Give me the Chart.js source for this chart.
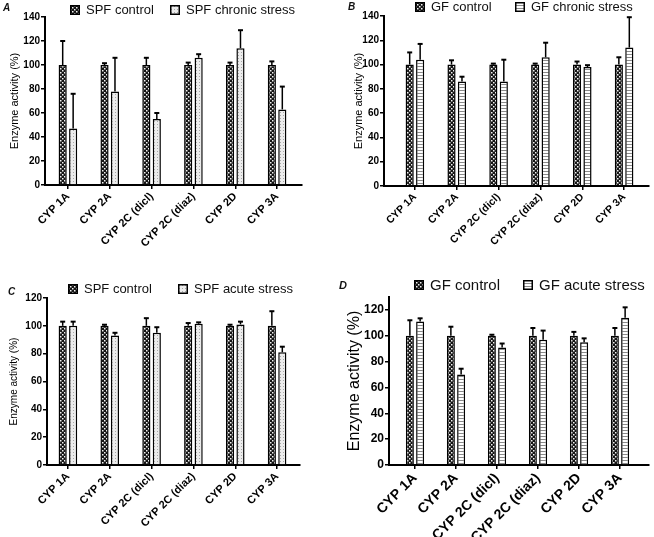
<!DOCTYPE html>
<html>
<head>
<meta charset="utf-8">
<script src="https://cdn.jsdelivr.net/npm/chart.js@4.4.1/dist/chart.umd.min.js"></script>
<style>
  body { margin: 0; background: #fff; font-family: 'Liberation Sans', Arial, sans-serif; }
  #page { position: relative; width: 654px; height: 537px; overflow: hidden; }
  .panel { position: absolute; }
  .tag { position: absolute; font-weight: bold; font-style: italic; color: #111; }
  .lg { position: absolute; display: flex; align-items: center; white-space: nowrap; color: #111; }
  .lg canvas { margin-right: 6px; }
</style>
</head>
<body>
<div id="page">
  <canvas id="chartA" class="panel" style="left:0;top:0"></canvas>
  <canvas id="chartB" class="panel" style="left:327px;top:0"></canvas>
  <canvas id="chartC" class="panel" style="left:0;top:268px"></canvas>
  <canvas id="chartD" class="panel" style="left:327px;top:268px"></canvas>
</div>
<script>
// categories and series
const categories = ['CYP 1A', 'CYP 2A', 'CYP 2C (dicl)', 'CYP 2C (diaz)', 'CYP 2D', 'CYP 3A'];

// A: SPF chronic
const spfCtrlChronic = [100, 100, 100, 100, 100, 100];
const spfCtrlChronicErr = [20, 1.5, 6, 2, 2, 3];
const spfChronic = [47, 78, 55, 106, 114, 63];
const spfChronicErr = [29, 28, 5, 3, 15, 19];

// B: GF chronic
const gfCtrlChronic = [100, 100, 100, 100, 100, 100];
const gfCtrlChronicErr = [10, 3.5, 0.8, 0.8, 2.5, 6];
const gfChronic = [104, 86, 86, 106, 98, 114];
const gfChronicErr = [13, 4, 18, 12, 1.5, 25];

// C: SPF acute
const spfCtrlAcute = [100, 100, 100, 100, 100, 100];
const spfCtrlAcuteErr = [3, 0.8, 5.5, 2, 0.8, 10.5];
const spfAcute = [100, 93, 95, 101.5, 101, 81];
const spfAcuteErr = [3, 2, 4, 1, 2, 4];

// D: GF acute
const gfCtrlAcute = [100, 100, 100, 100, 100, 100];
const gfCtrlAcuteErr = [12, 7, 0.8, 6, 3, 6];
const gfAcute = [111, 70, 91, 97, 95, 114];
const gfAcuteErr = [2.5, 4.5, 3, 7, 3, 8];

const legendA = ['SPF control', 'SPF chronic stress'];
const legendB = ['GF control', 'GF chronic stress'];
const legendC = ['SPF control', 'SPF acute stress'];
const legendD = ['GF control', 'GF acute stress'];

const yTicks140 = [0, 20, 40, 60, 80, 100, 120, 140];
const yTicks120 = [0, 20, 40, 60, 80, 100, 120];

const yTitle = 'Enzyme activity (%)';

const FONT = "'Liberation Sans', Arial, sans-serif";
Chart.defaults.color = '#000';
Chart.defaults.font.family = FONT;

// fill patterns
function makePattern(kind) {
    const c = document.createElement('canvas');
    const x = c.getContext('2d');
    if (kind === 'dots') {
        c.width = 4; c.height = 4;
        x.fillStyle = '#151515'; x.fillRect(0, 0, 4, 4);
        x.fillStyle = '#f4f4f4';
        x.fillRect(0, 0, 1.5, 1.5); x.fillRect(2, 2, 1.5, 1.5);
    } else if (kind === 'stipple') {
        c.width = 3; c.height = 3;
        x.fillStyle = '#ececec'; x.fillRect(0, 0, 3, 3);
        x.fillStyle = '#a8a8a8'; x.fillRect(1, 1, 1, 1);
    } else {
        c.width = 3; c.height = 3;
        x.fillStyle = '#ffffff'; x.fillRect(0, 0, 3, 3);
        x.fillStyle = '#8a8a8a'; x.fillRect(0, 0, 3, 1);
    }
    return x.createPattern(c, 'repeat');
}

// upper error bars from each dataset's errors array
const errorBars = {
    id: 'errorBars',
    afterDatasetsDraw(chart) {
        const ctx = chart.ctx;
        const yScale = chart.scales.y;
        chart.data.datasets.forEach((ds, i) => {
            const meta = chart.getDatasetMeta(i);
            meta.data.forEach((bar, j) => {
                const top = yScale.getPixelForValue(ds.data[j] + ds.errors[j]);
                ctx.save();
                ctx.strokeStyle = '#000';
                ctx.lineWidth = 1.5;
                ctx.beginPath();
                ctx.moveTo(bar.x, bar.y);
                ctx.lineTo(bar.x, top);
                ctx.stroke();
                ctx.lineWidth = 2;
                ctx.beginPath();
                ctx.moveTo(bar.x - 2.5, top);
                ctx.lineTo(bar.x + 2.5, top);
                ctx.stroke();
                ctx.restore();
            });
        });
    }
};

function addLegend(p, names, patterns) {
    const page = document.getElementById('page');
    names.forEach((name, i) => {
        const item = document.createElement('div');
        item.className = 'lg';
        item.style.left = p.lgX[i] + 'px';
        item.style.top = p.lgY + 'px';
        item.style.fontSize = p.lgFont + 'px';
        const sw = document.createElement('canvas');
        sw.width = 10; sw.height = 10;
        const sx = sw.getContext('2d');
        sx.fillStyle = patterns[i];
        sx.fillRect(0, 0, 10, 10);
        sx.strokeStyle = '#000';
        sx.lineWidth = 1.5;
        sx.strokeRect(0.75, 0.75, 8.5, 8.5);
        item.appendChild(sw);
        const t = document.createElement('span');
        t.textContent = name;
        item.appendChild(t);
        page.appendChild(item);
    });
    const tag = document.createElement('div');
    tag.className = 'tag';
    tag.textContent = p.tag;
    tag.style.left = p.tagX + 'px';
    tag.style.top = p.tagY + 'px';
    tag.style.fontSize = p.tagFont + 'px';
    page.appendChild(tag);
}

function drawPanel(p) {
    const cv = document.getElementById(p.id);
    cv.width = p.w; cv.height = p.h;
    const ctrlPat = makePattern('dots');
    const stressPat = makePattern(p.stressKind);
    addLegend(p, p.names, [ctrlPat, stressPat]);

    new Chart(cv.getContext('2d'), {
        type: 'bar',
        data: {
            labels: categories,
            datasets: [
                {
                    label: p.names[0],
                    data: p.ctrl,
                    errors: p.ctrlErr,
                    backgroundColor: ctrlPat,
                    borderColor: '#000',
                    borderWidth: 1.5,
                    categoryPercentage: 0.5,
                    barPercentage: 0.78
                },
                {
                    label: p.names[1],
                    data: p.stress,
                    errors: p.stressErr,
                    backgroundColor: stressPat,
                    borderColor: '#000',
                    borderWidth: 1.5,
                    categoryPercentage: 0.5,
                    barPercentage: 0.78
                }
            ]
        },
        options: {
            responsive: false,
            animation: false,
            layout: { padding: { left: 0, top: p.top, right: p.w - p.right, bottom: 0 } },
            plugins: { legend: { display: false }, tooltip: { enabled: false } },
            scales: {
                x: {
                    afterFit: s => { s.height = p.h - p.bottom; },
                    // the axis line runs a little past the outer categories
                    afterBuildTicks: s => {
                        const n = categories.length;
                        const c = (p.right - p.left - p.inL - p.inR) / n;
                        s._startValue = -0.5 - p.inL / c;
                        s._valueRange = n + (p.inL + p.inR) / c;
                    },
                    grid: { display: true, drawOnChartArea: false, offset: false, color: '#000', lineWidth: 1.5, tickLength: 4 },
                    border: { display: true, color: '#000', width: 2 },
                    ticks: { minRotation: 45, maxRotation: 45, padding: 1, color: '#000',
                             font: { size: p.xFont, weight: 'bold', family: FONT } }
                },
                y: {
                    min: 0,
                    max: p.yMax,
                    afterFit: s => { s.width = p.left; },
                    afterBuildTicks: s => { s.ticks = p.yTicks.map(v => ({ value: v })); },
                    grid: { display: true, drawOnChartArea: false, color: '#000', lineWidth: 1.5, tickLength: 4 },
                    border: { display: true, color: '#000', width: 2 },
                    ticks: { padding: 1, color: '#000',
                             font: { size: p.tickFont, weight: 'bold', family: FONT } },
                    title: { display: true, text: yTitle, color: '#000',
                             padding: { top: p.titlePad, bottom: 0 },
                             font: { size: p.titleFont, family: FONT } }
                }
            }
        },
        plugins: [errorBars]
    });
}

drawPanel({ id: 'chartA', tag: 'A', w: 327, h: 268, left: 45, top: 17, right: 302, bottom: 185, inL: 2, inR: 4,
    ctrl: spfCtrlChronic, ctrlErr: spfCtrlChronicErr, stress: spfChronic, stressErr: spfChronicErr,
    stressKind: 'stipple', yMax: 140, yTicks: yTicks140, names: legendA,
    tickFont: 10, xFont: 11, titleFont: 11, titlePad: 8,
    lgX: [70, 170], lgY: 2, lgFont: 13, tagX: 3, tagY: 2, tagFont: 10 });

drawPanel({ id: 'chartB', tag: 'B', w: 327, h: 268, left: 57, top: 16, right: 322, bottom: 186, inL: 10, inR: 4,
    ctrl: gfCtrlChronic, ctrlErr: gfCtrlChronicErr, stress: gfChronic, stressErr: gfChronicErr,
    stressKind: 'stripes', yMax: 140, yTicks: yTicks140, names: legendB,
    tickFont: 10, xFont: 10.5, titleFont: 11, titlePad: 25.5,
    lgX: [415, 515], lgY: -1, lgFont: 13, tagX: 348, tagY: 1, tagFont: 10 });

drawPanel({ id: 'chartC', tag: 'C', w: 327, h: 269, left: 47, top: 30, right: 300, bottom: 197, inL: 0, inR: 2,
    ctrl: spfCtrlAcute, ctrlErr: spfCtrlAcuteErr, stress: spfAcute, stressErr: spfAcuteErr,
    stressKind: 'stipple', yMax: 120, yTicks: yTicks120, names: legendC,
    tickFont: 10, xFont: 11, titleFont: 10, titlePad: 8.5,
    lgX: [68, 178], lgY: 281, lgFont: 13, tagX: 8, tagY: 286, tagFont: 10 });

drawPanel({ id: 'chartD', tag: 'D', w: 327, h: 269, left: 62, top: 29, right: 322, bottom: 197, inL: 5.5, inR: 8.5,
    ctrl: gfCtrlAcute, ctrlErr: gfCtrlAcuteErr, stress: gfAcute, stressErr: gfAcuteErr,
    stressKind: 'stripes', yMax: 130, yTicks: yTicks120, names: legendD,
    tickFont: 12, xFont: 14, titleFont: 16, titlePad: 18,
    lgX: [414, 523], lgY: 276, lgFont: 15, tagX: 339, tagY: 279, tagFont: 11 });
</script>
</body>
</html>
